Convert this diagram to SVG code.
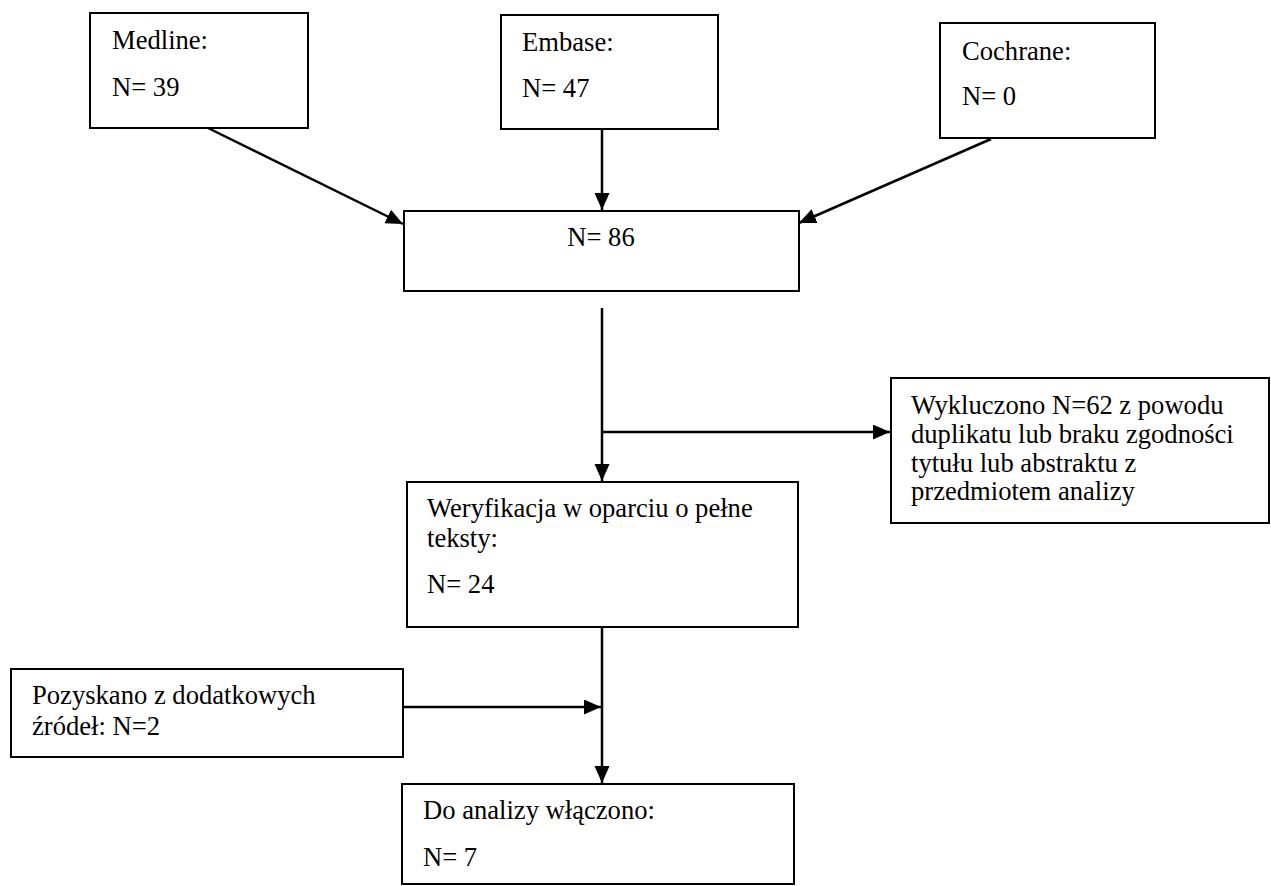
<svg xmlns="http://www.w3.org/2000/svg" width="1271" height="886" viewBox="0 0 1271 886">
<style>
.box{fill:#fff;stroke:#000;stroke-width:2}
.t{font-family:"Liberation Serif","Times New Roman",serif;font-size:26.6px;fill:#000}
.c{fill:none;stroke:#000;stroke-width:2.5}
</style>
<defs>
<marker id="ah" markerUnits="userSpaceOnUse" markerWidth="18" markerHeight="16" refX="17" refY="7.5" orient="auto">
<path d="M0,0 L17,7.5 L0,15 z" fill="#000"/>
</marker>
</defs>
<rect width="1271" height="886" fill="#fff"/>
<g id="connectors">
<line class="c" x1="206" y1="127" x2="403" y2="224" marker-end="url(#ah)"/>
<line class="c" x1="602" y1="124" x2="602" y2="210" marker-end="url(#ah)"/>
<line class="c" x1="991" y1="139" x2="799" y2="223" marker-end="url(#ah)"/>
<line class="c" x1="602" y1="308" x2="602" y2="481" marker-end="url(#ah)"/>
<line class="c" x1="602" y1="432" x2="890" y2="432" marker-end="url(#ah)"/>
<line class="c" x1="602" y1="627" x2="602" y2="783" marker-end="url(#ah)"/>
<line class="c" x1="403" y1="707" x2="601" y2="707" marker-end="url(#ah)"/>
</g>
<g id="medline">
<rect class="box" x="90" y="13" width="218" height="115"/>
<text class="t" x="112" y="49">Medline:</text>
<text class="t" x="112" y="96">N= 39</text>
</g>
<g id="embase">
<rect class="box" x="501" y="15" width="217" height="114"/>
<text class="t" x="522" y="51">Embase:</text>
<text class="t" x="522" y="97">N= 47</text>
</g>
<g id="cochrane">
<rect class="box" x="940" y="23" width="215" height="115"/>
<text class="t" x="962" y="60">Cochrane:</text>
<text class="t" x="962" y="105">N= 0</text>
</g>
<g id="total">
<rect class="box" x="404" y="211" width="395" height="80"/>
<text class="t" x="601" y="246" text-anchor="middle">N= 86</text>
</g>
<g id="excluded">
<rect class="box" x="891" y="378" width="378" height="145"/>
<text class="t" x="911" y="414">Wykluczono N=62 z powodu</text>
<text class="t" x="911" y="443">duplikatu lub braku zgodności</text>
<text class="t" x="911" y="472">tytułu lub abstraktu z</text>
<text class="t" x="911" y="500">przedmiotem analizy</text>
</g>
<g id="fulltext">
<rect class="box" x="407" y="482" width="391" height="145"/>
<text class="t" x="427" y="517">Weryfikacja w oparciu o pełne</text>
<text class="t" x="427" y="547">teksty:</text>
<text class="t" x="427" y="593">N= 24</text>
</g>
<g id="additional">
<rect class="box" x="11" y="669" width="392" height="88"/>
<text class="t" x="32" y="704">Pozyskano z dodatkowych</text>
<text class="t" x="32" y="735">źródeł: N=2</text>
</g>
<g id="included">
<rect class="box" x="402" y="784" width="392" height="100"/>
<text class="t" x="423" y="819">Do analizy włączono:</text>
<text class="t" x="423" y="866">N= 7</text>
</g>
</svg>
